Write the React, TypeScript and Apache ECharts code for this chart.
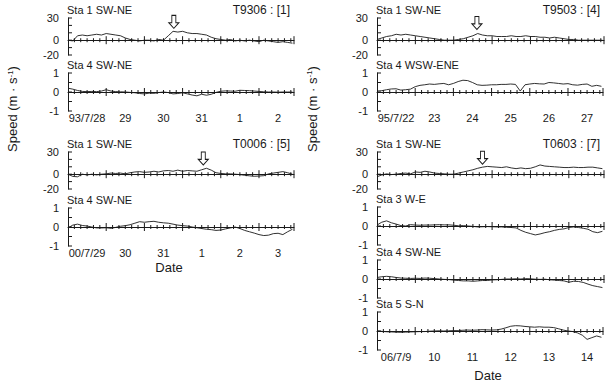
import React, { useEffect, useRef } from "react";
import * as echarts from "echarts";

// ---- sample times (hours from 00:00 of the first day) ----
const HOURS = [0, 3, 6, 9, 12, 15, 18, 21, 24, 27, 30, 33, 36, 39, 42, 45, 48, 51, 54, 57, 60, 63, 66, 69, 72, 75, 78, 81, 84, 87, 90, 93, 96, 99, 102, 105, 108, 111, 114, 117, 120, 123, 126, 129, 132, 135, 138, 141];
const H_MAX = 142;

// ---- axis ticks ----
const MAJOR_TICK_HOURS = [24, 48, 72, 96, 120, 142];
const MINOR_TICK_HOURS = [4, 8, 12, 16, 20, 28, 32, 36, 40, 44, 52, 56, 60, 64, 68, 76, 80, 84, 88, 92, 100, 104, 108, 112, 116, 124, 128, 132, 136, 140];
const BIG_TICKS = [-20, -10, 0, 10, 20, 30];
const SMALL_TICKS = [-1, -0.5, 0, 0.5, 1];
const BIG_LABELS = [30, 0, -20];
const SMALL_LABELS = [1, 0, -1];

// ---- day labels (placed at noon of each day) ----
const DAYS_9306 = ["93/7/28", "29", "30", "31", "1", "2"];
const DAYS_9503 = ["95/7/22", "23", "24", "25", "26", "27"];
const DAYS_0006 = ["00/7/29", "30", "31", "1", "2", "3"];
const DAYS_0603 = ["06/7/9", "10", "11", "12", "13", "14"];

// ---- series values ----
const T9306_STA1 = [0, -1, 6, 7, 6, 7, 8, 7, 9, 8, 7, 6, 3, 1, 0, -1, 0, 0, -1, 1, 0, 6, 12, 11, 12, 10, 9, 9, 8, 7, 4, 2, 1, 0, 1, -1, 0, -1, 0, -1, -2, 0, -1, -2, -3, -2, -3, -4];
const T9306_STA4 = [0.2, 0.15, 0.08, 0.03, 0.02, 0.03, 0.02, 0.05, 0.12, 0.05, 0.02, 0.01, 0, -0.02, -0.04, -0.08, -0.1, -0.06, -0.07, -0.03, 0, -0.03, -0.1, -0.08, -0.04, -0.1, -0.16, -0.2, -0.12, -0.17, -0.12, -0.02, 0.04, 0.06, 0.05, 0.04, 0.09, 0.08, 0.07, 0.05, 0.03, 0.01, 0, 0, -0.01, 0, 0, 0];
const T9503_STA1 = [1, 3, 5, 6, 8, 7, 8, 7, 6, 5, 4, 3, 2, 1, 0, 0, 0, 1, 2, 4, 6, 9, 7, 6, 6, 5, 5, 5, 6, 5, 5, 6, 5, 5, 4, 4, 3, 4, 3, 2, 1, 1, 0, 0, 0, 0, 0, 0];
const T9503_STA4 = [0.05, 0.07, 0.12, 0.16, 0.17, 0.1, 0.12, 0.15, 0.28, 0.35, 0.38, 0.42, 0.4, 0.43, 0.45, 0.38, 0.45, 0.55, 0.62, 0.6, 0.5, 0.38, 0.35, 0.36, 0.38, 0.38, 0.4, 0.4, 0.42, 0.4, 0.05, 0.38, 0.42, 0.45, 0.43, 0.42, 0.5, 0.48, 0.45, 0.42, 0.44, 0.38, 0.36, 0.4, 0.42, 0.3, 0.35, 0.3];
const T0006_STA1 = [0, -3, -3.5, 0, -1, 0, -1, 0, 0.5, 1.5, 1, 1.5, 0.5, 2, 3, 3.5, 2.5, 3, 4, 3, 4.5, 5, 4, 5.5, 4, 5, 4.5, 4, 6, 8, 5.5, 2, 1, 0.5, 0.5, 0, -0.5, -1.5, -2.2, -2.8, -2.5, -2, 0.5, 1.5, 2.5, 3.5, 2, 0];
const T0006_STA4 = [-0.05, 0.1, 0.15, 0.08, 0.05, 0, -0.05, -0.05, -0.04, -0.07, -0.02, 0.04, 0.07, 0.12, 0.2, 0.28, 0.25, 0.28, 0.3, 0.25, 0.22, 0.2, 0.15, 0.1, 0.07, 0.05, 0, -0.04, -0.08, -0.12, -0.14, -0.18, -0.16, -0.1, -0.05, 0, -0.08, -0.18, -0.25, -0.32, -0.4, -0.45, -0.43, -0.35, -0.33, -0.4, -0.25, -0.12];
const T0603_STA1 = [-3.5, -1, 0.5, -0.5, 0, 1, 1.5, 0.5, 3, 2.5, 4, 3, 1.5, 1, 0.5, 0, 0, 1.5, 3, 4.5, 6, 8, 9.5, 10.5, 10, 9.5, 9, 10, 8.5, 7.5, 8.5, 7.5, 8, 10, 12.5, 11, 10.5, 10, 9.5, 9, 9, 9.5, 9, 9, 9.5, 9.5, 8.5, 7.5];
const T0603_STA3 = [0.05, 0.2, 0.27, 0.17, 0.1, 0.02, 0, 0.07, 0.05, 0.04, 0.05, 0.05, 0.06, 0.07, 0.06, 0.06, 0.04, 0.01, 0.02, 0, -0.02, -0.05, -0.04, -0.03, -0.04, -0.05, -0.05, -0.07, -0.08, -0.1, -0.23, -0.33, -0.4, -0.47, -0.42, -0.35, -0.3, -0.23, -0.18, -0.15, -0.08, -0.05, -0.08, -0.12, -0.17, -0.3, -0.35, -0.28];
const T0603_STA4 = [0.08, 0.12, 0.14, 0.12, 0.08, 0.05, 0.04, 0.03, 0.04, 0.03, 0.05, 0.04, 0.02, 0, -0.02, -0.03, -0.06, -0.08, -0.1, -0.1, -0.12, -0.1, -0.08, -0.08, -0.05, -0.04, -0.02, 0, 0, 0.01, 0, 0.02, 0.01, -0.01, -0.02, -0.01, -0.04, -0.06, -0.08, -0.1, -0.17, -0.12, -0.13, -0.18, -0.27, -0.35, -0.4, -0.45];
const T0603_STA5 = [0, -0.02, -0.04, -0.05, -0.06, -0.07, -0.06, -0.05, -0.04, -0.03, -0.03, -0.01, 0, 0.01, 0, 0.01, 0.02, 0.02, 0.04, 0.05, 0.04, 0.05, 0.07, 0.06, 0.05, 0.06, 0.1, 0.17, 0.25, 0.28, 0.27, 0.24, 0.22, 0.2, 0.22, 0.2, 0.2, 0.18, 0.12, 0.05, 0, -0.03, -0.1, -0.22, -0.44, -0.35, -0.26, -0.33];

// ---- arrow annotations [hour, speed] (tip position) ----
const ARROW_9306 = [66.5, 16];
const ARROW_9503 = [62.5, 14.5];
const ARROW_0006 = [85, 12.5];
const ARROW_0603 = [66, 13.5];

const FONT = '"Liberation Sans", Arial, Helvetica, sans-serif';
const INK = "#1a1a1a";

const LEFT_X = 68;
const LEFT_W = 226;
const RIGHT_X = 377;
const RIGHT_W = 227;

type Panel = {
  x: number;
  w: number;
  top: number;
  height: number;
  big: boolean;
  title: string;
  tag?: string;
  values: number[];
  arrow?: number[];
  days?: string[];
};

const panels: Panel[] = [
  { x: LEFT_X, w: LEFT_W, top: 18, height: 37, big: true, title: "Sta 1 SW-NE", tag: "T9306 : [1]", values: T9306_STA1, arrow: ARROW_9306 },
  { x: LEFT_X, w: LEFT_W, top: 73, height: 38, big: false, title: "Sta 4 SW-NE", values: T9306_STA4, days: DAYS_9306 },
  { x: LEFT_X, w: LEFT_W, top: 152, height: 37, big: true, title: "Sta 1 SW-NE", tag: "T0006 : [5]", values: T0006_STA1, arrow: ARROW_0006 },
  { x: LEFT_X, w: LEFT_W, top: 208, height: 38, big: false, title: "Sta 4 SW-NE", values: T0006_STA4, days: DAYS_0006 },
  { x: RIGHT_X, w: RIGHT_W, top: 18, height: 37, big: true, title: "Sta 1 SW-NE", tag: "T9503 : [4]", values: T9503_STA1, arrow: ARROW_9503 },
  { x: RIGHT_X, w: RIGHT_W, top: 73, height: 38, big: false, title: "Sta 4 WSW-ENE", values: T9503_STA4, days: DAYS_9503 },
  { x: RIGHT_X, w: RIGHT_W, top: 152, height: 37, big: true, title: "Sta 1 SW-NE", tag: "T0603 : [7]", values: T0603_STA1, arrow: ARROW_0603 },
  { x: RIGHT_X, w: RIGHT_W, top: 207, height: 38, big: false, title: "Sta 3 W-E", values: T0603_STA3 },
  { x: RIGHT_X, w: RIGHT_W, top: 260, height: 38, big: false, title: "Sta 4 SW-NE", values: T0603_STA4 },
  { x: RIGHT_X, w: RIGHT_W, top: 312, height: 38, big: false, title: "Sta 5 S-N", values: T0603_STA5, days: DAYS_0603 },
];

const ARROW_PATH = "path://M3,0L7,0L7,8L10,8L5,14L0,8L3,8Z";

function buildOption() {
  const grid: any[] = [];
  const xAxis: any[] = [];
  const yAxis: any[] = [];
  const series: any[] = [];
  const graphic: any[] = [];
  const line = { color: INK, width: 1 };

  panels.forEach((p, i) => {
    grid.push({ left: p.x, top: p.top, width: p.w, height: p.height });
    const mainIdx = xAxis.length;
    xAxis.push({
      gridIndex: i,
      type: "value",
      min: 0,
      max: H_MAX,
      interval: 24,
      position: "bottom",
      splitLine: { show: false },
      axisLabel: { show: false },
      axisLine: { show: true, onZero: true, lineStyle: line },
      axisTick: { show: false },
    });
    if (p.days) {
      const days = p.days;
      xAxis.push({
        gridIndex: i,
        type: "value",
        min: 0,
        max: H_MAX,
        interval: 12,
        position: "bottom",
        axisLine: { show: false, onZero: false },
        axisTick: { show: false },
        splitLine: { show: false },
        axisLabel: {
          margin: 1,
          fontSize: 11,
          color: INK,
          fontFamily: FONT,
          formatter: (v: number) => (v % 24 === 12 ? days[(v - 12) / 24] ?? "" : ""),
        },
      });
    }
    const labs = p.big ? BIG_LABELS : SMALL_LABELS;
    yAxis.push({
      gridIndex: i,
      type: "value",
      min: p.big ? -20 : -1,
      max: p.big ? 30 : 1,
      interval: p.big ? 10 : 0.5,
      axisLine: { show: true, onZero: false, lineStyle: line },
      axisTick: { show: false },
      splitLine: { show: false },
      axisLabel: {
        margin: 9,
        fontSize: 11,
        color: INK,
        fontFamily: FONT,
        formatter: (v: number) => (labs.includes(v) ? String(v) : ""),
      },
    });

    // x ticks crossing the zero line
    const xTickData = [
      ...MAJOR_TICK_HOURS.map((h) => [h, 0, 4]),
      ...MINOR_TICK_HOURS.map((h) => [h, 0, 2]),
    ];
    series.push({
      type: "custom",
      xAxisIndex: mainIdx,
      yAxisIndex: i,
      silent: true,
      clip: false,
      z: 3,
      encode: { x: 0, y: 1 },
      data: xTickData,
      renderItem: (_params: any, api: any) => {
        const c = api.coord([api.value(0), 0]);
        const len = api.value(2);
        return {
          type: "line",
          shape: { x1: c[0], y1: c[1] - len, x2: c[0], y2: c[1] + len },
          style: { stroke: INK, lineWidth: 1 },
        };
      },
    });
    // y ticks pointing inward
    const yTicks = p.big ? BIG_TICKS : SMALL_TICKS;
    series.push({
      type: "custom",
      xAxisIndex: mainIdx,
      yAxisIndex: i,
      silent: true,
      clip: false,
      z: 3,
      encode: { x: 0, y: 1 },
      data: yTicks.map((v) => [0, v]),
      renderItem: (_params: any, api: any) => {
        const c = api.coord([0, api.value(1)]);
        return {
          type: "line",
          shape: { x1: c[0], y1: c[1], x2: c[0] + 4, y2: c[1] },
          style: { stroke: INK, lineWidth: 1 },
        };
      },
    });

    series.push({
      type: "line",
      xAxisIndex: mainIdx,
      yAxisIndex: i,
      data: HOURS.map((h, j) => [h, p.values[j]]),
      showSymbol: false,
      symbol: "none",
      silent: true,
      lineStyle: { color: INK, width: 0.9 },
      markPoint: p.arrow
        ? {
            symbol: ARROW_PATH,
            symbolSize: [10, 13],
            symbolOffset: [0, "-50%"],
            silent: true,
            label: { show: false },
            itemStyle: { color: "#fff", borderColor: INK, borderWidth: 1 },
            data: [{ coord: p.arrow }],
          }
        : undefined,
    });

    graphic.push({
      type: "text",
      x: p.x - 1,
      y: p.top - 8,
      style: { text: p.title, fontSize: 11, fontFamily: FONT, fill: INK, align: "left", verticalAlign: "middle" },
    });
    if (p.tag) {
      graphic.push({
        type: "text",
        x: p.x + p.w - 4,
        y: p.top - 8,
        style: { text: p.tag, fontSize: 12, fontFamily: FONT, fill: INK, align: "right", verticalAlign: "middle" },
      });
    }
  });

  const speedStyle = {
    text: "Speed (m · s{sup|-1})",
    fontSize: 13,
    fontFamily: FONT,
    fill: INK,
    align: "center",
    verticalAlign: "middle",
    rich: { sup: { fontSize: 8, fontFamily: FONT, fill: INK, verticalAlign: "top" } },
  };
  graphic.push({ type: "text", x: 12.5, y: 109, rotation: Math.PI / 2, style: { ...speedStyle } });
  graphic.push({ type: "text", x: 312, y: 109, rotation: Math.PI / 2, style: { ...speedStyle } });
  graphic.push({
    type: "text",
    x: 169,
    y: 267,
    style: { text: "Date", fontSize: 13, fontFamily: FONT, fill: INK, align: "center", verticalAlign: "middle" },
  });
  graphic.push({
    type: "text",
    x: 488,
    y: 375,
    style: { text: "Date", fontSize: 13, fontFamily: FONT, fill: INK, align: "center", verticalAlign: "middle" },
  });

  return {
    animation: false,
    backgroundColor: "#fff",
    textStyle: { fontFamily: FONT },
    grid,
    xAxis,
    yAxis,
    series,
    graphic,
  };
}

export default function App() {
  const ref = useRef<HTMLDivElement>(null);
  useEffect(() => {
    document.body.style.margin = "0";
    const chart = echarts.init(ref.current!, undefined, { renderer: "svg" });
    chart.setOption(buildOption() as any);
    return () => chart.dispose();
  }, []);
  return <div ref={ref} style={{ width: 606, height: 386, background: "#fff" }} />;
}
